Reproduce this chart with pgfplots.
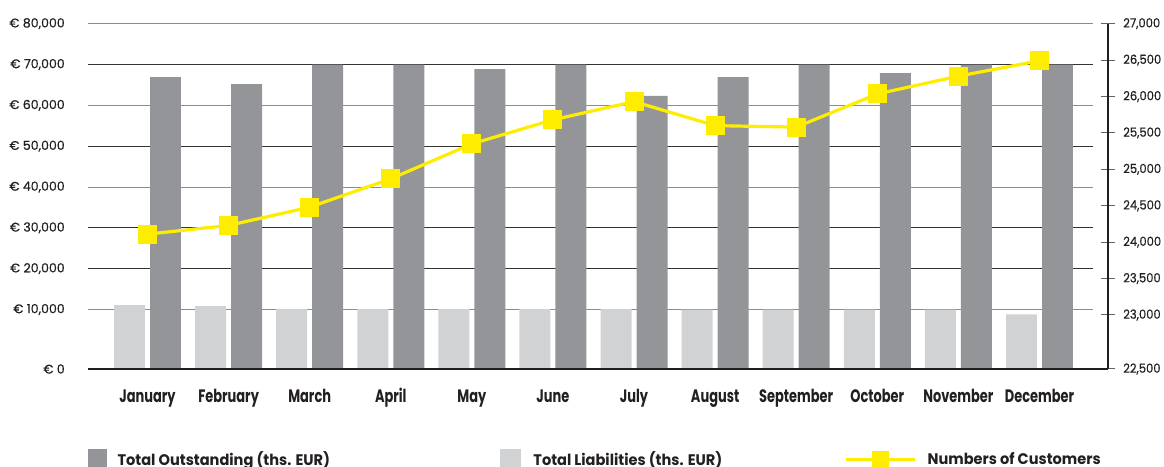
\documentclass[border=0pt]{standalone}
\usepackage{pgfplots}
\pgfplotsset{compat=1.18}
\usepackage{pgfplotstable}
\usepackage{graphicx}
\usepackage{fontspec}
\setmainfont{Poppins}
\newfontfamily\numfont{Poppins}[FakeBold=0.6]
\definecolor{darkbar}{RGB}{147,149,152}
\definecolor{lightbar}{RGB}{209,210,212}
\definecolor{yel}{RGB}{255,237,0}
\definecolor{gridgray}{RGB}{140,140,140}
\definecolor{griddark}{RGB}{51,51,51}
\definecolor{axisblack}{RGB}{35,31,32}
\definecolor{tickgray}{RGB}{100,100,100}
\newcommand\xl[1]{\scalebox{0.72}[1]{#1}}
\newcommand\legtxt[1]{\scalebox{0.95}[1]{#1}}
\newcommand\rl[1]{\scalebox{0.92}[1]{#1}}
% piecewise-linear axis scales (the bottom segment of both axes is stretched)
\newcommand\fputrafo[1]{\begingroup\pgfkeys{/pgf/fpu=true,/pgf/fpu/output format=fixed}\pgfmathparse{#1}\xdef\trafotmp{\pgfmathresult}\endgroup\let\pgfmathresult\trafotmp}
\newcommand\lefttrafo[1]{\fputrafo{(#1<10000)*(1.457*#1)+(#1>=10000)*(#1+4570)}}
\newcommand\leftinvtrafo[1]{\fputrafo{(#1<14570)*(#1/1.457)+(#1>=14570)*(#1-4570)}}
\newcommand\righttrafo[1]{\fputrafo{(#1<23000)*(1.483*#1-11109)+(#1>=23000)*(#1)}}
\newcommand\rightinvtrafo[1]{\fputrafo{(#1<23000)*((#1+11109)/1.483)+(#1>=23000)*(#1)}}
\pgfplotsset{
  custlegend/.style={legend image code/.code={\draw[##1, mark repeat=2, mark phase=2, mark size=6pt] plot coordinates {(0pt,0pt) (25.875pt,0pt) (51.75pt,0pt)}; \path (60pt,0pt);}},
  outlegend/.style={legend image code/.code={\fill[darkbar] (0pt,-8pt) rectangle (13.5pt,7.7pt); \path (21.75pt,0pt);}},
  liablegend/.style={legend image code/.code={\fill[lightbar] (0pt,-8pt) rectangle (15pt,7.7pt); \path (25pt,0pt);}},
}

\pgfplotstableread{
x outstanding liabilities customers
0 66900 11100 24110
1 65200 10850 24230
2 70000 10150 24480
3 70000 10100 24870
4 68900 10100 25350
5 70000 10100 25680
6 62300 10100 25930
7 66900 10000 25600
8 70000 10000 25580
9 67900 10000 26035
10 70000 10000 26280
11 70000 9200 26490
}\datatable

\begin{document}
\begin{tikzpicture}
\begin{axis}[
  at={(66pt,73.5pt)}, anchor=south west,
  scale only axis, width=753.75pt, height=258.98pt,
  xmin=-0.7338, xmax=11.6598,
  ymin=0, ymax=80000,
  y coord trafo/.code={\lefttrafo{#1}},
  y coord inv trafo/.code={\leftinvtrafo{#1}},
  scaled y ticks=false,
  axis x line*=bottom, axis y line*=left,
  axis line style={draw=none},
  major tick length=0pt,
  tick style={draw=none},
  xtick={0,1,2,3,4,5,6,7,8,9,10,11},
  xticklabels={\xl{January},\xl{February},\xl{March},\xl{April},\xl{May},\xl{June},\xl{July},\xl{August},\xl{September},\xl{October},\xl{November},\xl{December}},
  xticklabel style={font=\fontsize{13.5}{14}\selectfont\bfseries, text=axisblack, inner sep=0pt, anchor=base, yshift=-25.2pt},
  ytick={0,10000,40000,60000,80000},
  yticklabels={{€ 0},{€ 10,000},{€ 40,000},{€ 60,000},{€ 80,000}},
  yticklabel style={font=\numfont\fontsize{9.4}{10}\selectfont, text=axisblack, inner sep=0pt, anchor=east, xshift=-17.25pt},
  ymajorgrids, major grid style={draw=gridgray, line width=0.75pt},
  extra y ticks={20000,30000,50000,70000},
  extra y tick labels={{€ 20,000},{€ 30,000},{€ 50,000},{€ 70,000}},
  extra y tick style={grid=major, major grid style={draw=griddark, line width=0.75pt}},
]
\addplot[ybar, bar width=0.382, bar shift=-0.222, fill=lightbar, draw=none] table[x=x,y=liabilities]{\datatable};
\addplot[ybar, bar width=0.382, bar shift=0.222, fill=darkbar, draw=none] table[x=x,y=outstanding]{\datatable};
\end{axis}
\begin{axis}[
  at={(66pt,73.5pt)}, anchor=south west,
  scale only axis, width=765pt, height=258.98pt,
  xmin=-0.7338, xmax=11.8447,
  ymin=22500, ymax=27000,
  y coord trafo/.code={\righttrafo{#1}},
  y coord inv trafo/.code={\rightinvtrafo{#1}},
  scaled y ticks=false,
  axis x line*=bottom, axis y line*=right,
  x axis line style={draw=axisblack, line width=1.7pt},
  y axis line style={draw=axisblack, line width=1pt},
  xtick=\empty,
  ytick={22500,23000,23500,24000,24500,25000,25500,26000,26500,27000},
  yticklabels={\rl{22,500},\rl{23,000},\rl{23,500},\rl{24,000},\rl{24,500},\rl{25,000},\rl{25,500},\rl{26,000},\rl{26,500},\rl{27,000}},
  tick align=center, major tick length=10.5pt,
  ytick style={draw=tickgray, line width=0.75pt},
  yticklabel style={font=\numfont\fontsize{9.4}{10}\selectfont, text=axisblack, inner sep=0pt, anchor=west, xshift=6pt},
  legend columns=3,
  legend cell align=left,
  legend style={at={(0,0)}, anchor=north west, yshift=-59.78pt, draw=none, fill=none, inner sep=0pt, outer sep=0pt, /tikz/column sep=0pt, nodes={inner sep=0pt, font=\fontsize{11.5}{12}\selectfont\bfseries, text=axisblack}},
]
\addlegendimage{outlegend}
\addlegendentry{\makebox[286.5pt][l]{\legtxt{Total Outstanding (ths. EUR)}}}
\addlegendimage{liablegend}
\addlegendentry{\makebox[233.25pt][l]{\legtxt{Total Liabilities (ths. EUR)}}}
\addplot[yel, line width=2.4pt, mark=square*, mark size=6.75pt, mark options={fill=yel, draw=yel, line width=0pt}, custlegend]
  table[x=x,y=customers]{\datatable};
\addlegendentry{\legtxt{Numbers of Customers}}
\end{axis}
\pgfresetboundingbox
\useasboundingbox (0,0) rectangle (873pt,350.25pt);
\end{tikzpicture}
\end{document}
